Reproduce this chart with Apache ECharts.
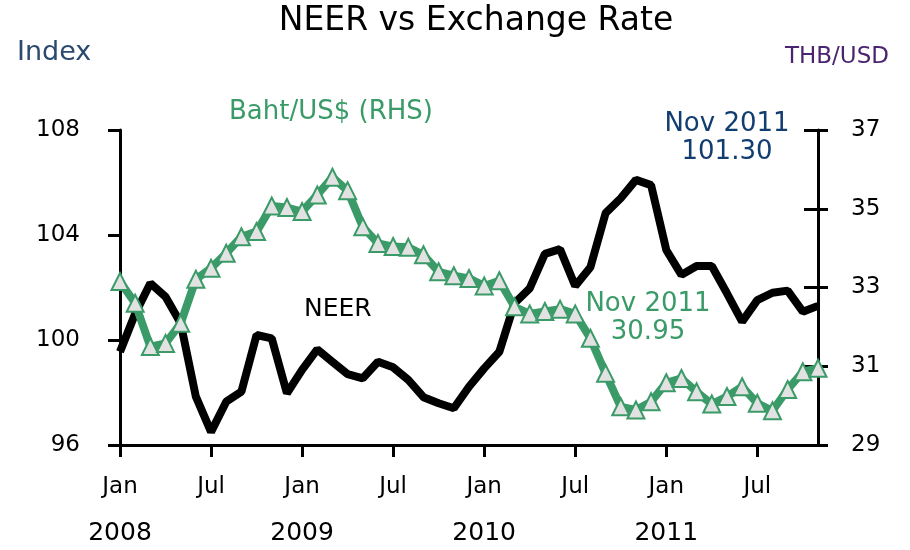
<!DOCTYPE html>
<html>
<head>
<meta charset="utf-8">
<script src="https://cdn.jsdelivr.net/npm/echarts@6/dist/echarts.min.js"></script>
<style>
  html, body { margin: 0; padding: 0; background: #fff; }
  #chart { width: 910px; height: 550px; }
</style>
</head>
<body>
<div id="chart"></div>
<script>
// Jan 2008 .. Nov 2011
var months = ['Jan','Feb','Mar','Apr','May','Jun','Jul','Aug','Sep','Oct','Nov','Dec'];
var years = ['2008', '2009', '2010', '2011'];
var leftTicks = [96, 100, 104, 108];
var rightTicks = [29, 31, 33, 35, 37];

var neer = [
  99.55, 101.0, 102.16, 101.65, 100.64, 97.84, 96.5, 97.65, 98.03, 100.19, 100.06, 97.97,
  98.86, 99.64, 99.17, 98.70, 98.54, 99.17, 98.96, 98.48, 97.82, 97.59, 97.40, 98.22,
  98.92, 99.55, 101.40, 101.97, 103.28, 103.46, 102.06, 102.77, 104.83, 105.40, 106.10, 105.90,
  103.43, 102.48, 102.82, 102.82, 101.78, 100.70, 101.52, 101.80, 101.88, 101.08, 101.30
];
var baht = [
  33.15, 32.60, 31.50, 31.58, 32.09, 33.21, 33.49, 33.87, 34.29, 34.42, 35.07, 35.03,
  34.93, 35.35, 35.80, 35.46, 34.54, 34.12, 34.04, 34.02, 33.83, 33.40, 33.30, 33.23,
  33.04, 33.17, 32.51, 32.33, 32.39, 32.45, 32.33, 31.71, 30.82, 29.97, 29.89, 30.10,
  30.58, 30.69, 30.35, 30.04, 30.23, 30.48, 30.06, 29.87, 30.41, 30.86, 30.95
];

var cats = [];
for (var i = 0; i < neer.length; i++) {
  cats.push(months[i % 12] + ' ' + years[Math.floor(i / 12)]);
}

var FONT = 'DejaVu Sans';
var green = '#3a9b68';

var myChart = echarts.init(document.getElementById('chart'));
var option = {
  backgroundColor: '#fff',
  animation: false,
  grid: { left: 120, right: 92, top: 130, bottom: 105, outerBoundsMode: 'none' },
  xAxis: {
    type: 'category',
    data: cats,
    boundaryGap: false,
    axisLine: { lineStyle: { color: '#000', width: 3 } },
    axisTick: {
      length: 12,
      lineStyle: { color: '#000', width: 3 },
      interval: function (idx) { return idx % 6 === 0; }
    },
    axisLabel: {
      interval: function (idx) { return idx % 6 === 0; },
      margin: 19,
      color: '#000',
      fontFamily: FONT,
      rich: {
        m: { fontFamily: FONT, fontSize: 23, lineHeight: 46, color: '#000' },
        y: { fontFamily: FONT, fontSize: 25, lineHeight: 46, color: '#000' }
      },
      formatter: function (val, idx) {
        var p = val.split(' ');
        if (idx % 12 === 0) return '{m|' + p[0] + '}\n{y|' + p[1] + '}';
        return '{m|' + p[0] + '}';
      }
    }
  },
  yAxis: [
    {
      type: 'value', min: leftTicks[0], max: leftTicks[leftTicks.length - 1], interval: 4,
      position: 'left',
      axisLine: { show: true, lineStyle: { color: '#000', width: 3 } },
      axisTick: { show: true, length: 12, lineStyle: { color: '#000', width: 3 } },
      axisLabel: { fontFamily: FONT, fontSize: 23, color: '#000', margin: 40 },
      splitLine: { show: false }
    },
    {
      type: 'value', min: rightTicks[0], max: rightTicks[rightTicks.length - 1], interval: 2,
      position: 'right',
      axisLine: { show: true, lineStyle: { color: '#000', width: 3 } },
      axisTick: { show: true, length: 10, lineStyle: { color: '#000', width: 3 } },
      axisLabel: { fontFamily: FONT, fontSize: 23, color: '#000', margin: 33 },
      splitLine: { show: false }
    },
    {
      type: 'value', min: rightTicks[0], max: rightTicks[rightTicks.length - 1], interval: 2,
      position: 'right',
      axisLine: { show: false },
      axisTick: { show: true, inside: true, length: 14, lineStyle: { color: '#000', width: 3 } },
      axisLabel: { show: false },
      splitLine: { show: false }
    }
  ],
  series: [
    {
      name: 'NEER',
      type: 'line',
      yAxisIndex: 0,
      data: neer,
      showSymbol: false,
      lineStyle: { color: '#000', width: 8 },
      z: 3
    },
    {
      name: 'Baht/US$ (RHS)',
      type: 'line',
      yAxisIndex: 1,
      data: baht,
      symbol: 'triangle',
      symbolSize: 17,
      showAllSymbol: true,
      lineStyle: { color: green, width: 8 },
      itemStyle: { color: '#e2e2e2', borderColor: green, borderWidth: 2 },
      z: 4
    }
  ],
  graphic: [
    { type: 'text', x: 476, y: 5, style: { text: 'NEER vs Exchange Rate', fontFamily: FONT, fontSize: 33, fill: '#000', align: 'center', verticalAlign: 'top' } },
    { type: 'text', x: 17, y: 39, style: { text: 'Index', fontFamily: FONT, fontSize: 27, fill: '#2b4a6e', verticalAlign: 'top' } },
    { type: 'text', x: 889, y: 46, style: { text: 'THB/USD', fontFamily: FONT, fontSize: 23, fill: '#4a2470', align: 'right', verticalAlign: 'top' } },
    { type: 'text', x: 229, y: 99, style: { text: 'Baht/US$ (RHS)', fontFamily: FONT, fontSize: 26, fill: green, verticalAlign: 'top' } },
    { type: 'text', x: 304, y: 297, style: { text: 'NEER', fontFamily: FONT, fontSize: 25, fill: '#000', verticalAlign: 'top' } },
    { type: 'text', x: 727, y: 110, style: { text: 'Nov 2011\n101.30', fontFamily: FONT, fontSize: 26, lineHeight: 28, fill: '#123d70', align: 'center', verticalAlign: 'top' } },
    { type: 'text', x: 648, y: 290, style: { text: 'Nov 2011\n30.95', fontFamily: FONT, fontSize: 26, lineHeight: 28, fill: green, align: 'center', verticalAlign: 'top' } }
  ]
};
myChart.setOption(option);
</script>
</body>
</html>
